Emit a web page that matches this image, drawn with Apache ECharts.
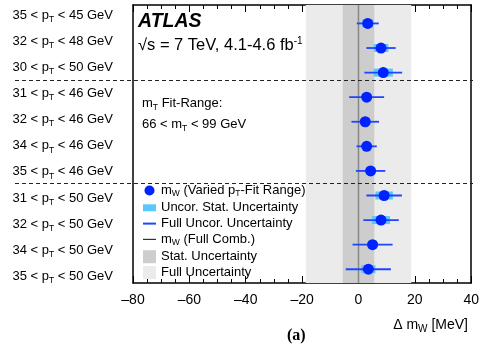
<!DOCTYPE html>
<html>
<head>
<meta charset="utf-8">
<style>
  html, body { margin: 0; padding: 0; background: #fff; }
  #main { width: 482px; height: 348px; }
</style>
<script src="https://cdn.jsdelivr.net/npm/echarts@6/dist/echarts.min.js"></script>
</head>
<body>
<div id="main"></div>
<script>
  // fit ranges, top to bottom
  var ptLow  = [35, 32, 30, 31, 32, 34, 35, 31, 32, 34, 35];
  var ptHigh = [45, 48, 50, 46, 46, 46, 46, 50, 50, 50, 50];
  // delta mW [MeV] and its errors
  var mwShift  = [3.3, 8.0, 8.8, 2.9, 2.4, 2.9, 4.3, 9.1, 8.0, 5.0, 3.5];
  var statErr  = [2.0, 2.6, 3.4, 1.5, 1.5, 1.2, 1.5, 3.1, 3.2, 1.5, 2.5];
  var uncorErr = [3.9, 5.2, 6.7, 6.2, 4.9, 3.6, 5.2, 6.3, 6.3, 7.1, 8.0];
  // full combination bands
  var combCentre = 0;
  var combStat = 5.6;
  var combFull = 18.7;
  var xTicks = [-80, -60, -40, -20, 0, 20, 40];

  var FONT = 'Liberation Sans, Arial, Helvetica, sans-serif';
  var Y_MIN = 0.25, Y_MAX = 11.56;

  var rows = ptLow.map(function (lo, i) { return lo + '-' + ptHigh[i]; });
  var pts = mwShift.map(function (v, i) { return [v, i + 1]; });
  var statData = mwShift.map(function (v, i) { return [v, i + 1, statErr[i]]; });
  var uncorData = mwShift.map(function (v, i) { return [v, i + 1, uncorErr[i]]; });

  var labelRich = {
    t: { fontSize: 13, lineHeight: 18, color: '#000', fontFamily: FONT },
    s: { fontSize: 8.5, lineHeight: 9, verticalAlign: 'bottom', color: '#000', fontFamily: FONT }
  };
  var legendRich = {
    t: { fontSize: 13, lineHeight: 16, color: '#000', fontFamily: FONT },
    s: { fontSize: 8.5, lineHeight: 9, verticalAlign: 'bottom', color: '#000', fontFamily: FONT }
  };
  var textRich = {
    t: { fontSize: 13, lineHeight: 18, fill: '#000', fontFamily: FONT },
    b: { fontSize: 16.5, lineHeight: 18, fill: '#000', fontFamily: FONT },
    ax: { fontSize: 14, lineHeight: 18, fill: '#000', fontFamily: FONT },
    s: { fontSize: 8.5, lineHeight: 9, verticalAlign: 'bottom', fill: '#000', fontFamily: FONT },
    sw: { fontSize: 10, lineHeight: 10, verticalAlign: 'bottom', fill: '#000', fontFamily: FONT },
    u: { fontSize: 10, lineHeight: 9, verticalAlign: 'top', fill: '#000', fontFamily: FONT }
  };

  var legendText = {
    mw: '{t|m}{s|W}{t| (Varied p}{s|T}{t|-Fit Range)}',
    stat: '{t|Uncor. Stat. Uncertainty}',
    uncor: '{t|Full Uncor. Uncertainty}',
    comb: '{t|m}{s|W}{t| (Full Comb.)}',
    statband: '{t|Stat. Uncertainty}',
    fullband: '{t|Full Uncertainty}'
  };

  var tickAxis = function (pos, gridIndex) {
    return {
      type: 'value', gridIndex: gridIndex, position: pos,
      min: xTicks[0], max: xTicks[xTicks.length - 1], interval: xTicks[1] - xTicks[0],
      axisLine: { onZero: false, lineStyle: { color: '#000', width: 1.5 } },
      axisTick: { inside: true, length: 7, lineStyle: { color: '#000', width: 1 } },
      minorTick: { show: true, splitNumber: 4, length: 4, lineStyle: { color: '#000', width: 1 } },
      splitLine: { show: false },
      axisLabel: {
        show: pos === 'bottom', margin: 10, color: '#000', fontSize: 14, fontFamily: FONT,
        formatter: function (v) { return v < 0 ? '\u2013' + (-v) : String(v); }
      }
    };
  };

  var frameAxis = function (pos) {
    return {
      type: 'value', gridIndex: 0, position: pos, inverse: true, min: Y_MIN, max: Y_MAX,
      axisLine: { show: true, onZero: false, lineStyle: { color: '#000', width: 1.5 } },
      axisTick: { show: false }, axisLabel: { show: false }, splitLine: { show: false }
    };
  };

  var myChart = echarts.init(document.getElementById('main'));
  var option = {
    animation: false,
    backgroundColor: '#fff',
    grid: [
      { left: 133, right: 9, top: 5, height: 278 },
      { left: 133, right: 9, top: 1.9, height: 287.6 },
      { left: 15, right: 9, top: 5, height: 278 }
    ],
    xAxis: [
      tickAxis('bottom', 0),
      tickAxis('top', 0),
      { type: 'value', gridIndex: 1, show: false },
      { type: 'value', gridIndex: 2, show: false, min: 0, max: 1 }
    ],
    yAxis: [
      frameAxis('left'),
      frameAxis('right'),
      {
        type: 'category', gridIndex: 1, data: rows, inverse: true,
        axisLine: { show: false }, axisTick: { show: false }, splitLine: { show: false },
        axisLabel: {
          margin: 20, rich: labelRich,
          formatter: function (v) {
            var p = v.split('-');
            return '{t|' + p[0] + ' < p}{s|T}{t| < ' + p[1] + ' GeV}';
          }
        }
      },
      { type: 'value', gridIndex: 2, show: false, inverse: true, min: Y_MIN, max: Y_MAX }
    ],
    legend: {
      orient: 'vertical', left: 143, top: 184, padding: 0, itemGap: 2.8,
      itemWidth: 13, itemHeight: 13, symbolKeepAspect: true, selectedMode: false,
      textStyle: { rich: legendRich },
      formatter: function (name) { return legendText[name]; },
      data: [
        { name: 'mw', icon: 'path://M0,0M13,13M11.5,6.5A5,5,0,1,1,1.5,6.5A5,5,0,1,1,11.5,6.5Z', itemStyle: { color: '#0022ff', borderWidth: 0, opacity: 1 } },
        { name: 'stat', icon: 'path://M0,0h13v7h-13z', itemStyle: { color: '#5ac8fa', borderWidth: 0 } },
        { name: 'uncor', icon: 'path://M0,0h13v2h-13z', itemStyle: { color: '#1f45ff', borderWidth: 0 } },
        { name: 'comb', icon: 'path://M0,0h13v1.2h-13z', itemStyle: { color: '#333', borderWidth: 0 } },
        { name: 'statband', icon: 'rect', itemStyle: { color: '#cdcdcd', borderWidth: 0 } },
        { name: 'fullband', icon: 'rect', itemStyle: { color: '#ebebeb', borderWidth: 0 } }
      ]
    },
    graphic: [
      { type: 'text', left: 138, top: 12, style: { text: 'ATLAS', font: 'italic bold 19.5px ' + FONT, fill: '#000' } },
      { type: 'text', left: 138, top: 36, style: { text: '{b|\u221As = 7 TeV, 4.1-4.6 fb}{u|-1}', rich: textRich } },
      { type: 'text', left: 142, top: 97, style: { text: '{t|m}{s|T}{t| Fit-Range:}', rich: textRich } },
      { type: 'text', left: 142, top: 118, style: { text: '{t|66 < m}{s|T}{t| < 99 GeV}', rich: textRich } },
      { type: 'text', right: 14, top: 318, style: { text: '{ax|\u0394 m}{sw|W}{ax| [MeV]}', rich: textRich } },
      { type: 'text', left: 287, top: 328, style: { text: '(a)', font: 'bold 16px Liberation Serif, Times New Roman, serif', fill: '#000' } }
    ],
    series: [
      {
        name: 'fullband', type: 'line', xAxisIndex: 0, yAxisIndex: 0, data: [], color: '#ebebeb', z: 1,
        markArea: { silent: true, itemStyle: { color: '#ebebeb' }, data: [[{ xAxis: combCentre - combFull }, { xAxis: combCentre + combFull }]] }
      },
      {
        name: 'statband', type: 'line', xAxisIndex: 0, yAxisIndex: 0, data: [], color: '#cdcdcd', z: 1,
        markArea: { silent: true, itemStyle: { color: '#cdcdcd' }, data: [[{ xAxis: combCentre - combStat }, { xAxis: combCentre + combStat }]] }
      },
      {
        name: 'comb', type: 'line', xAxisIndex: 0, yAxisIndex: 0, symbol: 'none', z: 2,
        data: [[combCentre, Y_MIN], [combCentre, Y_MAX]],
        lineStyle: { color: '#888', width: 1.5 }, color: '#888'
      },
      {
        name: 'stat', type: 'custom', xAxisIndex: 0, yAxisIndex: 0, z: 3,
        itemStyle: { color: '#5ac8fa' },
        encode: { x: 0, y: 1 },
        data: statData,
        renderItem: function (params, api) {
          var c = api.value(0), y = api.value(1), e = api.value(2);
          var a = api.coord([c - e, y]), b = api.coord([c + e, y]);
          return { type: 'rect', shape: { x: a[0], y: a[1] - 4, width: b[0] - a[0], height: 8 }, style: { fill: api.visual('color') } };
        }
      },
      {
        name: 'uncor', type: 'custom', xAxisIndex: 0, yAxisIndex: 0, z: 4,
        itemStyle: { color: '#1f45ff' },
        encode: { x: 0, y: 1 },
        data: uncorData,
        renderItem: function (params, api) {
          var c = api.value(0), y = api.value(1), e = api.value(2);
          var a = api.coord([c - e, y]), b = api.coord([c + e, y]);
          return { type: 'line', shape: { x1: a[0], y1: a[1], x2: b[0], y2: b[1] }, style: { stroke: api.visual('color'), lineWidth: 1.8 } };
        }
      },
      {
        name: 'mw', type: 'scatter', xAxisIndex: 0, yAxisIndex: 0, z: 5,
        symbolSize: 11, itemStyle: { color: '#0022ff', opacity: 1 }, data: pts
      },
      {
        name: 'sep', type: 'line', xAxisIndex: 3, yAxisIndex: 3, data: [], z: 6,
        markLine: {
          silent: true, symbol: 'none', label: { show: false },
          lineStyle: { color: '#222', width: 1, type: [4, 3] },
          data: [{ yAxis: 3.3 }, { yAxis: 7.5 }]
        }
      }
    ]
  };
  myChart.setOption(option);
</script>
</body>
</html>
